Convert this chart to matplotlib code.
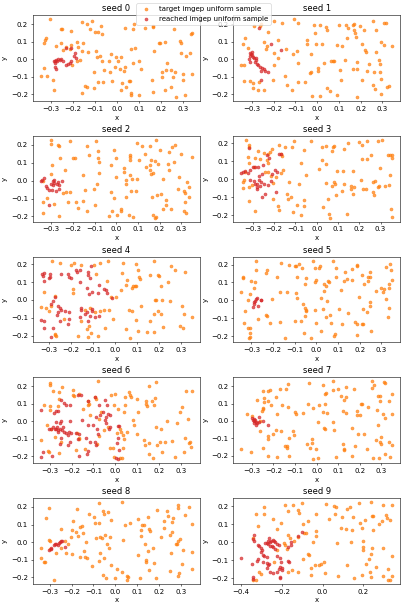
import numpy as np
import matplotlib
matplotlib.use('Agg')
import matplotlib.pyplot as plt

# points, (x, y) per seed
target_s0 = [(-0.308, 0.228), (-0.33, 0.11), (-0.335, 0.095), (-0.325, 0.12), (-0.254, 0.172), (-0.25, 0.172),
             (-0.257, 0.09), (-0.277, 0.075), (-0.246, 0.053), (-0.231, 0.068), (-0.212, 0.081), (-0.182, 0.10),
             (-0.18, 0.072), (-0.158, 0.049), (-0.131, 0.04), (-0.158, 0.211), (-0.138, 0.198), (-0.115, 0.217),
             (-0.123, 0.172), (-0.10, 0.157), (-0.085, 0.153), (-0.069, 0.143), (-0.072, 0.19), (-0.208, 0.16),
             (-0.154, 0.091), (-0.215, 0.057), (-0.169, -0.004), (-0.182, -0.009), (-0.206, -0.034), (-0.092, 0.015),
             (-0.077, 0.019), (-0.069, -0.009), (-0.103, -0.07), (-0.058, -0.064), (-0.031, -0.07), (-0.038, -0.009),
             (-0.026, 0.03), (-0.003, 0.015), (0.003, -0.009), (-0.008, -0.045), (0.012, -0.057), (0.035, -0.042),
             (0.031, -0.066), (0.02, 0.011), (0.038, 0.175), (0.072, 0.17), (0.077, 0.198), (0.062, 0.058),
             (0.08, 0.066), (0.074, -0.023), (0.1, -0.013), (0.108, -0.057), (0.126, 0.175), (0.162, 0.189),
             (0.166, 0.186), (0.169, 0.047), (0.158, -0.117), (0.166, -0.189), (0.191, 0.091), (0.197, 0.091),
             (0.218, 0.096), (0.226, -0.019), (0.203, -0.075), (0.203, -0.102), (0.223, -0.064), (0.246, -0.064),
             (0.257, -0.104), (0.246, -0.158), (0.22, -0.174), (0.265, -0.07), (0.271, -0.215), (0.258, 0.174),
             (0.289, 0.106), (0.292, 0.091), (0.292, 0.034), (0.303, -0.083), (0.303, -0.117), (0.315, 0.019),
             (0.312, -0.202), (0.338, 0.143), (0.343, 0.147), (0.335, 0.038), (0.343, -0.083), (-0.349, -0.094),
             (-0.334, -0.051), (-0.32, -0.094), (-0.292, -0.121), (-0.288, -0.177), (-0.158, -0.192), (-0.146, -0.151),
             (-0.135, -0.158), (-0.105, -0.164), (-0.085, -0.13), (-0.062, -0.13), (0.023, -0.136), (0.054, -0.123),
             (0.058, -0.123), (0.043, -0.158), (0.02, -0.174), (0.062, -0.202), (0.065, -0.192), (0.098, -0.206),
             (-0.023, -0.125), (-0.095, 0.047)]
reached_s0 = [(-0.289, -0.013), (-0.285, -0.008), (-0.277, -0.004), (-0.269, 0.0), (-0.262, -0.004), (-0.254, 0.0),
              (-0.246, -0.008), (-0.282, -0.023), (-0.285, -0.042), (-0.28, -0.055), (-0.231, -0.034), (-0.223, -0.028),
              (-0.215, -0.023), (-0.212, -0.009), (-0.197, 0.019), (-0.192, 0.034), (-0.188, 0.009), (-0.231, 0.066),
              (-0.212, 0.062), (-0.274, -0.013)]

target_s1 = [(-0.292, 0.19), (-0.262, 0.19), (-0.258, 0.202), (-0.331, 0.121), (-0.342, 0.089), (-0.318, 0.064),
             (-0.351, -0.034), (-0.334, -0.034), (-0.338, -0.123), (-0.311, -0.126), (-0.297, -0.136), (-0.295, -0.164),
             (-0.272, -0.174), (-0.246, -0.174), (-0.269, -0.13), (-0.226, 0.157), (-0.243, 0.1), (-0.231, 0.074),
             (-0.235, 0.06), (-0.197, 0.217), (-0.197, 0.036), (-0.182, 0.004), (-0.197, -0.034), (-0.205, -0.117),
             (-0.18, 0.111), (-0.162, 0.208), (-0.143, 0.06), (-0.146, -0.098), (-0.138, -0.145), (-0.118, -0.177),
             (-0.111, 0.028), (-0.105, 0.228), (-0.088, 0.204), (-0.095, 0.045), (-0.089, -0.021), (-0.088, -0.132),
             (-0.054, -0.132), (-0.049, 0.111), (-0.049, 0.089), (-0.031, -0.077), (-0.028, -0.073), (-0.028, 0.032),
             (-0.026, -0.211), (-0.008, 0.151), (-0.005, 0.089), (-0.015, 0.192), (0.003, -0.049), (0.005, -0.068),
             (0.012, 0.192), (0.015, -0.211), (0.023, 0.089), (0.031, -0.021), (0.042, 0.183), (0.046, 0.168),
             (0.062, -0.011), (0.072, -0.011), (0.077, -0.011), (0.046, -0.164), (0.058, -0.183), (0.089, -0.202),
             (0.092, 0.083), (0.1, 0.192), (0.105, -0.062), (0.112, 0.075), (0.108, -0.117), (0.126, -0.006),
             (0.134, 0.192), (0.142, 0.175), (0.138, 0.119), (0.165, 0.192), (0.169, 0.2), (0.169, 0.166),
             (0.174, 0.147), (0.177, 0.128), (0.166, -0.058), (0.182, -0.053), (0.185, -0.015), (0.182, -0.215),
             (0.197, 0.187), (0.208, 0.089), (0.206, -0.117), (0.215, 0.166), (0.218, 0.053), (0.226, 0.042),
             (0.228, -0.066), (0.238, -0.028), (0.257, 0.217), (0.258, -0.145), (0.262, -0.072), (0.265, -0.17),
             (0.269, 0.042), (0.269, 0.166), (0.288, -0.028), (0.292, 0.096), (0.292, -0.115), (0.295, -0.2),
             (0.289, -0.072), (0.308, 0.208), (0.315, 0.208), (0.308, 0.081), (0.285, -0.006), (0.328, -0.153),
             (0.323, -0.156), (0.346, 0.074)]
reached_s1 = [(-0.311, 0.038), (-0.305, 0.032), (-0.3, 0.026), (-0.308, 0.017), (-0.295, 0.013), (-0.289, 0.004),
              (-0.283, -0.006), (-0.288, -0.017), (-0.277, -0.025), (-0.271, -0.034), (-0.265, -0.043), (-0.254, -0.049),
              (-0.246, -0.058), (-0.238, -0.068), (-0.226, -0.075), (-0.257, -0.066), (-0.312, 0.0), (-0.308, -0.015),
              (-0.257, -0.117), (-0.211, 0.089), (-0.165, 0.055), (-0.269, 0.177), (-0.3, 0.042), (-0.28, 0.009)]

target_s2 = [(-0.303, 0.228), (-0.303, 0.206), (-0.269, 0.2), (-0.262, 0.196), (-0.257, 0.126), (-0.295, 0.089),
             (-0.3, 0.035), (-0.238, 0.057), (-0.212, 0.22), (-0.2, 0.126), (-0.192, 0.126), (-0.134, 0.196),
             (-0.126, 0.141), (-0.151, 0.03), (-0.095, 0.224), (-0.082, 0.163), (-0.085, 0.126), (-0.077, 0.104),
             (-0.077, 0.043), (-0.088, -0.017), (-0.103, -0.044), (-0.146, -0.05), (-0.185, -0.119), (-0.223, -0.119),
             (-0.177, -0.152), (-0.151, -0.115), (-0.135, -0.169), (-0.1, -0.137), (-0.231, -0.063), (-0.211, -0.063),
             (-0.246, -0.069), (-0.338, -0.119), (-0.338, -0.178), (-0.32, -0.096), (-0.285, -0.128), (-0.265, -0.198),
             (-0.338, -0.004), (-0.026, 0.089), (-0.011, 0.169), (0.0, 0.126), (0.0, 0.02), (-0.023, -0.063),
             (-0.011, -0.096), (-0.018, -0.169), (-0.034, -0.198), (0.005, -0.193), (0.02, -0.156), (0.023, -0.169),
             (0.038, 0.07), (0.038, 0.048), (0.046, 0.006), (0.043, -0.017), (0.046, -0.091), (0.062, 0.144),
             (0.065, 0.131), (0.065, 0.117), (0.062, 0.033), (0.074, 0.011), (0.069, -0.059), (0.092, -0.059),
             (0.097, 0.011), (0.095, 0.209), (0.103, 0.113), (0.118, 0.196), (0.057, -0.193), (0.077, -0.202),
             (0.132, 0.15), (0.138, 0.076), (0.157, 0.191), (0.162, 0.117), (0.157, 0.085), (0.158, 0.061),
             (0.162, 0.039), (0.169, 0.043), (0.165, -0.091), (0.185, 0.228), (0.177, 0.109), (0.188, -0.081),
             (0.205, -0.072), (0.203, 0.169), (0.192, 0.094), (0.215, 0.011), (0.215, -0.156), (0.231, -0.109),
             (0.231, -0.137), (0.238, 0.094), (0.242, 0.159), (0.246, 0.057), (0.257, 0.187), (0.272, 0.202),
             (0.269, 0.104), (0.254, -0.156), (0.177, -0.207), (0.185, -0.202), (0.172, -0.193), (0.3, 0.15),
             (0.289, 0.02), (0.286, -0.044), (0.315, -0.059), (0.318, -0.069), (0.318, -0.119), (0.315, -0.169),
             (0.32, -0.18), (0.326, -0.007), (0.338, -0.035), (0.335, -0.094), (0.351, 0.131)]
reached_s2 = [(-0.349, -0.004), (-0.342, 0.006), (-0.331, 0.017), (-0.326, -0.03), (-0.32, -0.041), (-0.3, -0.017),
              (-0.292, -0.004), (-0.285, -0.013), (-0.274, -0.017), (-0.269, -0.007), (-0.285, 0.006), (-0.295, -0.054),
              (-0.277, -0.059), (-0.262, -0.048), (-0.249, 0.0), (-0.311, -0.05), (-0.292, -0.026), (-0.308, -0.137),
              (-0.265, -0.022)]

target_s3 = [(-0.333, 0.22), (-0.317, 0.189), (-0.316, 0.18), (-0.323, 0.124), (-0.316, 0.091), (-0.289, 0.12),
             (-0.273, 0.156), (-0.266, 0.115), (-0.245, 0.146), (-0.227, 0.143), (-0.219, 0.154), (-0.208, 0.167),
             (-0.234, 0.106), (-0.227, 0.091), (-0.292, 0.069), (-0.336, 0.041), (-0.344, -0.015), (-0.339, -0.006),
             (-0.344, -0.048), (-0.316, -0.043), (-0.305, -0.033), (-0.316, -0.122), (-0.289, -0.176), (-0.242, 0.041),
             (-0.227, 0.041), (-0.214, 0.017), (-0.206, -0.019), (-0.191, 0.013), (-0.203, -0.111), (-0.177, 0.193),
             (-0.167, 0.143), (-0.164, 0.13), (-0.167, 0.035), (-0.156, 0.05), (-0.148, 0.18), (-0.138, -0.085),
             (-0.128, -0.015), (-0.136, -0.111), (-0.122, -0.102), (-0.183, -0.148), (-0.175, -0.172), (-0.114, 0.18),
             (-0.105, 0.213), (-0.113, -0.181), (-0.094, -0.144), (-0.081, -0.024), (-0.075, 0.091), (-0.073, -0.2),
             (-0.058, 0.161), (-0.052, 0.026), (-0.058, -0.117), (-0.058, -0.15), (-0.027, 0.213), (0.013, 0.059),
             (0.023, 0.109), (0.023, 0.18), (0.044, 0.183), (0.044, 0.087), (0.044, -0.02), (0.031, -0.157),
             (0.055, -0.113), (0.059, -0.194), (0.063, -0.215), (0.078, 0.18), (0.083, 0.185), (0.07, 0.157),
             (0.081, -0.015), (0.086, -0.024), (0.073, -0.039), (0.091, -0.089), (0.094, 0.044), (0.122, 0.044),
             (0.128, -0.028), (0.13, 0.17), (0.145, 0.202), (0.141, -0.196), (0.12, -0.067), (0.159, -0.039),
             (0.161, -0.057), (0.172, 0.046), (0.172, -0.08), (0.177, -0.043), (0.2, 0.207), (0.211, 0.189),
             (0.211, 0.115), (0.208, -0.006), (0.219, -0.057), (0.23, -0.057), (0.238, 0.213), (0.234, 0.115),
             (0.255, 0.133), (0.263, -0.07), (0.269, -0.089), (0.266, -0.015), (0.273, -0.011), (0.286, 0.211),
             (0.309, 0.217), (0.297, 0.063), (0.294, -0.039), (0.289, -0.046), (0.32, -0.039), (0.336, 0.133),
             (0.344, 0.133), (0.352, 0.137), (0.355, 0.119), (0.344, 0.022), (0.341, -0.03), (0.347, -0.169),
             (0.356, -0.209)]
reached_s3 = [(-0.356, 0.035), (-0.347, 0.041), (-0.336, 0.044), (-0.323, 0.035), (-0.313, 0.054), (-0.3, 0.069),
              (-0.288, 0.069), (-0.275, 0.069), (-0.313, -0.002), (-0.294, -0.011), (-0.289, -0.024), (-0.278, -0.024),
              (-0.272, -0.002), (-0.263, -0.015), (-0.281, -0.043), (-0.266, -0.039), (-0.253, 0.081), (-0.255, 0.031),
              (-0.245, -0.028), (-0.23, -0.033), (-0.214, -0.011), (-0.211, 0.028), (-0.195, 0.05), (-0.177, 0.143),
              (-0.169, 0.143), (-0.191, -0.07), (-0.242, -0.085), (-0.258, -0.098), (-0.281, -0.057), (-0.269, 0.017),
              (-0.316, 0.176), (-0.234, 0.133), (-0.222, 0.12), (-0.184, 0.041)]

target_s4 = [(-0.289, 0.22), (-0.249, 0.209), (-0.2, 0.193), (-0.185, 0.206), (-0.154, 0.196), (-0.096, 0.196),
             (-0.067, 0.209), (-0.032, 0.219), (0.037, 0.206), (0.095, 0.2), (0.105, 0.169), (0.11, 0.131),
             (0.113, 0.117), (0.032, 0.15), (0.056, 0.109), (0.052, 0.085), (0.029, 0.057), (0.003, 0.017),
             (0.082, 0.076), (0.09, 0.076), (0.098, 0.08), (0.079, 0.067), (0.162, 0.141), (0.179, 0.215),
             (0.197, 0.141), (0.202, 0.135), (0.208, 0.076), (0.217, 0.002), (0.185, 0.002), (0.189, 0.002),
             (0.179, -0.081), (0.197, -0.063), (0.209, -0.081), (0.162, -0.115), (0.177, -0.178), (0.22, -0.152),
             (0.243, 0.1), (0.25, -0.004), (0.255, 0.187), (0.273, 0.169), (0.322, 0.159), (0.307, -0.031),
             (0.316, -0.081), (0.296, -0.146), (0.311, -0.156), (0.353, -0.094), (0.148, -0.178), (0.095, -0.113),
             (0.079, -0.063), (0.064, -0.057), (0.118, -0.035), (0.105, -0.174), (0.049, -0.165), (0.067, -0.215),
             (-0.009, -0.109), (-0.017, 0.017), (-0.037, 0.104), (-0.052, -0.054), (-0.029, -0.057), (-0.07, -0.063),
             (-0.089, -0.069), (-0.047, -0.156), (-0.078, -0.202), (-0.108, -0.183), (-0.124, -0.207), (-0.127, -0.165),
             (-0.119, -0.146), (-0.169, -0.202), (-0.139, -0.054), (-0.116, -0.044), (-0.154, -0.119), (-0.192, 0.061),
             (-0.192, 0.039), (-0.302, -0.063), (-0.34, -0.039), (-0.314, -0.044), (-0.292, -0.031), (-0.272, 0.02),
             (-0.276, -0.193), (-0.272, -0.198), (-0.269, -0.203), (-0.231, -0.104), (-0.325, 0.043), (-0.085, 0.144)]
reached_s4 = [(-0.333, 0.144), (-0.328, 0.135), (-0.324, 0.15), (-0.299, 0.146), (-0.299, 0.131), (-0.302, 0.12),
              (-0.322, 0.104), (-0.246, 0.146), (-0.215, 0.144), (-0.212, 0.128), (-0.203, 0.12), (-0.18, 0.165),
              (-0.174, 0.154), (-0.162, 0.169), (-0.124, 0.159), (-0.111, 0.191), (-0.122, 0.139), (-0.116, 0.12),
              (-0.162, 0.098), (-0.128, 0.067), (-0.119, 0.035), (-0.104, 0.043), (-0.075, 0.085), (-0.052, 0.061),
              (-0.043, 0.054), (-0.037, 0.039), (-0.012, 0.011), (-0.272, 0.017), (-0.284, -0.007), (-0.29, -0.02),
              (-0.253, -0.044), (-0.247, -0.054), (-0.26, -0.065), (-0.229, -0.063), (-0.208, -0.069), (-0.249, -0.119),
              (-0.157, -0.044), (-0.153, -0.056), (-0.137, -0.076), (-0.128, -0.067), (-0.107, -0.05), (-0.104, -0.063),
              (-0.116, -0.087), (-0.124, -0.119), (-0.159, -0.093), (-0.208, -0.109), (-0.215, -0.137), (-0.339, -0.111),
              (-0.324, -0.119), (-0.325, -0.159), (-0.284, -0.154), (-0.293, -0.209), (-0.093, -0.094), (-0.073, -0.087),
              (-0.266, -0.085), (-0.26, -0.035), (-0.078, 0.039)]

target_s5 = [(-0.349, 0.044), (-0.338, 0.133), (-0.338, 0.124), (-0.308, 0.035), (-0.315, 0.0), (-0.328, -0.057),
             (-0.334, -0.126), (-0.315, -0.154), (-0.308, -0.154), (-0.308, -0.181), (-0.311, -0.209), (-0.305, -0.204),
             (-0.3, 0.109), (-0.285, 0.1), (-0.288, 0.069), (-0.28, 0.22), (-0.28, 0.167), (-0.269, -0.107),
             (-0.231, 0.152), (-0.226, 0.17), (-0.231, -0.08), (-0.228, -0.089), (-0.215, -0.126), (-0.203, 0.007),
             (-0.182, 0.13), (-0.169, -0.122), (-0.166, 0.044), (-0.162, 0.207), (-0.146, -0.209), (-0.138, 0.044),
             (-0.126, 0.198), (-0.1, 0.189), (-0.093, 0.192), (-0.1, -0.117), (-0.095, 0.041), (-0.089, 0.013),
             (-0.088, 0.128), (-0.082, 0.204), (-0.072, -0.117), (-0.065, 0.18), (-0.062, -0.02), (-0.054, 0.091),
             (-0.054, -0.043), (-0.049, -0.052), (-0.046, -0.061), (-0.054, -0.085), (-0.057, -0.185), (-0.049, 0.124),
             (-0.023, -0.213), (-0.018, 0.222), (-0.008, 0.18), (-0.008, 0.1), (-0.008, -0.056), (0.0, 0.115),
             (0.0, -0.126), (0.011, 0.18), (0.015, 0.189), (0.023, 0.013), (0.023, -0.172), (0.031, -0.048),
             (0.034, 0.091), (0.035, 0.05), (0.051, -0.002), (0.054, 0.109), (0.058, 0.1), (0.043, -0.094),
             (0.062, -0.08), (0.043, 0.078), (0.066, -0.126), (0.077, 0.222), (0.08, -0.2), (0.085, -0.19),
             (0.089, 0.18), (0.089, 0.133), (0.105, -0.048), (0.112, 0.056), (0.12, -0.135), (0.128, 0.106),
             (0.134, 0.156), (0.143, 0.119), (0.146, -0.07), (0.162, 0.174), (0.165, 0.115), (0.185, 0.189),
             (0.188, 0.198), (0.177, -0.122), (0.185, -0.131), (0.185, -0.196), (0.195, 0.019), (0.208, -0.135),
             (0.215, -0.13), (0.212, 0.139), (0.218, 0.091), (0.215, -0.048), (0.238, 0.133), (0.246, 0.133),
             (0.238, 0.109), (0.234, -0.067), (0.246, 0.161), (0.249, -0.011), (0.249, -0.03), (0.254, -0.172),
             (0.277, 0.05), (0.3, 0.069), (0.311, 0.063), (0.305, 0.044), (0.32, 0.007), (0.323, 0.185),
             (0.335, 0.091), (0.335, 0.069), (0.338, 0.204), (0.346, 0.167), (0.351, 0.115), (0.335, -0.043),
             (0.331, -0.094)]
reached_s5 = [(-0.292, -0.039), (-0.288, -0.011), (-0.285, -0.006), (-0.28, 0.007), (-0.274, 0.013), (-0.269, -0.033),
              (-0.258, 0.0), (-0.254, 0.0), (-0.287, -0.02)]

target_s6 = [(-0.3, 0.219), (-0.297, 0.208), (-0.285, 0.172), (-0.258, 0.166), (-0.242, 0.194), (-0.258, 0.128),
             (-0.326, 0.091), (-0.3, 0.085), (-0.297, 0.066), (-0.262, 0.085), (-0.194, 0.179), (-0.194, 0.147),
             (-0.191, 0.143), (-0.164, 0.153), (-0.126, 0.115), (-0.121, 0.1), (-0.123, 0.091), (-0.08, 0.228),
             (-0.091, 0.138), (-0.088, 0.128), (-0.065, 0.053), (-0.073, 0.015), (-0.053, -0.051), (-0.02, 0.147),
             (-0.008, 0.091), (0.0, 0.157), (0.014, 0.072), (-0.023, -0.151), (-0.012, -0.151), (-0.035, -0.032),
             (-0.005, -0.202), (0.006, -0.07), (0.023, -0.042), (0.026, -0.06), (0.036, -0.079), (0.041, -0.104),
             (0.053, -0.06), (0.023, -0.211), (0.03, -0.211), (0.036, -0.151), (0.038, 0.053), (0.045, 0.091),
             (0.045, 0.138), (0.061, 0.166), (0.068, 0.147), (0.074, 0.138), (0.079, 0.006), (0.086, -0.023),
             (0.097, -0.075), (0.098, 0.125), (0.102, 0.053), (0.132, -0.108), (0.135, -0.136), (0.139, 0.1),
             (0.144, 0.085), (0.139, 0.113), (0.152, 0.2), (0.155, -0.126), (0.155, -0.189), (0.17, 0.113),
             (0.173, -0.208), (0.177, 0.091), (0.182, 0.132), (0.185, 0.226), (0.185, -0.032), (0.189, -0.136),
             (0.208, -0.042), (0.205, -0.117), (0.212, -0.174), (0.226, -0.121), (0.238, 0.0), (0.258, -0.111),
             (0.273, -0.202), (0.283, -0.013), (0.295, 0.053), (0.306, 0.081), (0.314, -0.174), (0.318, -0.094),
             (0.324, 0.172), (0.332, 0.015), (0.336, -0.123), (0.341, -0.117), (0.347, -0.145), (0.352, 0.175),
             (-0.342, -0.108), (-0.311, -0.023), (-0.292, -0.047), (-0.276, -0.089), (-0.25, -0.117), (-0.258, -0.179),
             (-0.307, -0.17), (-0.303, -0.174), (-0.179, -0.164), (-0.176, -0.07), (-0.168, -0.098), (-0.164, -0.104),
             (-0.138, -0.158), (-0.118, 0.034), (-0.085, -0.132), (-0.076, -0.083), (-0.148, 0.072)]
reached_s6 = [(-0.338, 0.066), (-0.282, 0.049), (-0.273, 0.057), (-0.261, 0.057), (-0.247, 0.119), (-0.236, 0.106),
              (-0.227, 0.091), (-0.209, 0.091), (-0.17, 0.147), (-0.159, 0.151), (-0.126, 0.113), (-0.091, 0.138),
              (-0.073, 0.091), (-0.068, 0.038), (-0.055, 0.053), (-0.045, 0.119), (-0.039, 0.094), (-0.035, 0.043),
              (-0.026, 0.038), (-0.042, 0.023), (-0.045, 0.009), (-0.088, 0.025), (-0.126, -0.023), (-0.103, -0.023),
              (-0.085, -0.042), (-0.077, -0.074), (-0.118, -0.117), (-0.095, -0.117), (-0.088, -0.136), (-0.13, -0.187),
              (-0.133, -0.098), (-0.164, -0.075), (-0.179, -0.07), (-0.171, -0.102), (-0.202, -0.07), (-0.214, -0.06),
              (-0.218, -0.079), (-0.205, -0.117), (-0.217, -0.136), (-0.255, -0.132), (-0.25, -0.098), (-0.262, -0.051),
              (-0.277, -0.042), (-0.27, -0.042), (-0.255, -0.042), (-0.245, -0.051), (-0.255, -0.008), (-0.25, 0.002),
              (-0.267, -0.032), (-0.239, -0.032), (-0.235, -0.06), (-0.227, -0.07), (-0.303, -0.042), (-0.292, -0.042),
              (-0.285, -0.032), (-0.273, -0.004), (-0.33, -0.174), (-0.338, -0.202), (-0.288, -0.198), (-0.167, -0.198),
              (-0.03, -0.042), (0.011, -0.028), (0.018, -0.028), (0.009, -0.123), (0.003, -0.211), (0.014, -0.217),
              (0.015, -0.164), (0.014, -0.098), (-0.023, -0.032), (-0.126, -0.17), (-0.153, 0.006), (-0.209, 0.0),
              (-0.262, -0.064), (-0.042, -0.013)]

target_s7 = [(-0.351, -0.16), (-0.32, 0.038), (-0.305, -0.177), (-0.3, 0.03), (-0.277, 0.123), (-0.262, 0.0),
             (-0.262, -0.06), (-0.249, 0.17), (-0.246, -0.155), (-0.243, 0.134), (-0.243, 0.109), (-0.249, 0.072),
             (-0.246, 0.066), (-0.254, 0.057), (-0.226, 0.115), (-0.223, 0.175), (-0.215, 0.179), (-0.226, -0.089),
             (-0.223, -0.102), (-0.212, 0.091), (-0.2, -0.075), (-0.223, -0.202), (-0.188, 0.138), (-0.188, -0.051),
             (-0.185, -0.208), (-0.182, 0.038), (-0.169, 0.181), (-0.162, 0.094), (-0.165, -0.057), (-0.146, -0.145),
             (-0.142, 0.181), (-0.135, -0.145), (-0.135, -0.158), (-0.131, 0.213), (-0.131, 0.081), (-0.126, -0.202),
             (-0.126, -0.098), (-0.108, -0.06), (-0.105, -0.083), (-0.1, 0.049), (-0.095, 0.038), (-0.065, 0.043),
             (-0.043, -0.136), (-0.038, 0.1), (-0.034, 0.217), (-0.031, -0.155), (-0.023, -0.104), (-0.023, -0.126),
             (-0.018, 0.075), (-0.015, -0.221), (-0.003, -0.164), (0.005, -0.004), (0.008, -0.215), (0.011, 0.091),
             (0.028, 0.053), (0.031, 0.204), (0.034, -0.042), (0.038, -0.047), (0.038, 0.1), (0.038, 0.157),
             (0.043, 0.162), (0.046, 0.043), (0.074, 0.179), (0.077, 0.228), (0.077, -0.004), (0.08, -0.055),
             (0.089, -0.211), (0.1, 0.181), (0.112, 0.142), (0.12, 0.057), (0.123, -0.136), (0.128, -0.164),
             (0.126, -0.17), (0.126, 0.123), (0.134, 0.138), (0.138, 0.198), (0.135, 0.043), (0.162, -0.042),
             (0.162, -0.202), (0.172, 0.181), (0.177, -0.145), (0.188, 0.057), (0.189, 0.034), (0.192, -0.075),
             (0.2, 0.034), (0.203, 0.096), (0.208, 0.1), (0.218, -0.075), (0.231, -0.164), (0.238, 0.081),
             (0.257, 0.189), (0.258, 0.228), (0.262, -0.215), (0.265, 0.208), (0.274, -0.111), (0.28, 0.062),
             (0.282, -0.023), (0.285, 0.143), (0.292, 0.143), (0.295, 0.115), (0.289, -0.215), (0.3, -0.094),
             (0.292, -0.121), (0.3, -0.136), (0.305, 0.038), (0.311, 0.223), (0.315, 0.219), (0.315, -0.189),
             (0.315, 0.015), (0.334, 0.115), (0.337, -0.121), (0.338, -0.208), (0.351, 0.157), (0.351, 0.038),
             (0.351, -0.14)]
reached_s7 = [(-0.3, 0.015), (-0.295, 0.004), (-0.291, 0.011), (-0.288, -0.002), (-0.283, 0.006), (-0.292, -0.011),
              (-0.28, -0.009), (-0.274, -0.015), (-0.28, -0.023), (-0.269, 0.025), (-0.268, -0.008), (-0.249, 0.0),
              (-0.226, -0.023)]

target_s8 = [(-0.34, -0.089), (-0.342, -0.036), (-0.325, -0.111), (-0.322, -0.115), (-0.315, 0.138), (-0.304, 0.194),
             (-0.304, 0.011), (-0.299, 0.006), (-0.299, -0.042), (-0.281, -0.215), (-0.269, -0.06), (-0.25, 0.077),
             (-0.249, -0.032), (-0.231, 0.006), (-0.226, -0.064), (-0.218, -0.008), (-0.203, 0.03), (-0.197, 0.068),
             (-0.2, -0.07), (-0.192, 0.121), (-0.18, 0.058), (-0.174, 0.189), (-0.169, 0.034), (-0.162, 0.087),
             (-0.15, 0.091), (-0.147, 0.049), (-0.143, -0.051), (-0.139, -0.083), (-0.131, -0.092), (-0.134, 0.002),
             (-0.162, -0.083), (-0.119, 0.158), (-0.105, -0.136), (-0.096, 0.143), (-0.093, 0.106), (-0.09, 0.025),
             (-0.075, -0.106), (-0.073, 0.106), (-0.073, 0.223), (-0.07, 0.03), (-0.07, -0.064), (-0.06, 0.025),
             (-0.055, 0.175), (-0.052, 0.158), (-0.047, 0.04), (-0.05, -0.089), (-0.055, -0.187), (-0.043, -0.206),
             (-0.037, -0.013), (-0.032, 0.172), (-0.027, -0.036), (-0.024, 0.03), (-0.02, 0.125), (-0.02, -0.13),
             (-0.002, -0.206), (0.009, -0.153), (0.029, 0.228), (0.029, -0.168), (0.034, 0.011), (0.044, 0.096),
             (0.055, -0.191), (0.06, -0.196), (0.055, -0.215), (0.067, 0.106), (0.105, 0.134), (0.105, -0.074),
             (0.113, -0.206), (0.118, 0.068), (0.116, 0.036), (0.121, 0.1), (0.131, 0.1), (0.136, -0.008),
             (0.143, -0.102), (0.14, -0.111), (0.148, 0.143), (0.151, -0.049), (0.153, 0.077), (0.159, 0.062),
             (0.171, -0.036), (0.177, -0.117), (0.156, -0.158), (0.185, -0.206), (0.192, 0.181), (0.209, 0.03),
             (0.223, 0.081), (0.224, 0.121), (0.238, 0.175), (0.243, 0.147), (0.253, 0.04), (0.258, 0.115),
             (0.26, 0.058), (0.266, 0.138), (0.255, -0.064), (0.25, -0.164), (0.278, -0.013), (0.284, -0.013),
             (0.289, 0.213), (0.289, 0.194), (0.289, 0.006), (0.296, 0.017), (0.292, -0.177), (0.289, -0.192),
             (0.307, -0.126), (0.311, -0.045), (0.319, 0.157), (0.339, 0.2), (0.353, 0.102), (0.353, -0.055),
             (0.353, -0.153)]
reached_s8 = [(-0.302, -0.045), (-0.296, -0.04), (-0.292, -0.032), (-0.279, -0.017), (-0.272, -0.013), (-0.261, -0.015),
              (-0.256, -0.006), (-0.253, 0.002), (-0.249, 0.006), (-0.246, 0.009), (-0.231, -0.026), (-0.276, -0.013)]

target_s9 = [(-0.325, 0.155), (-0.316, 0.09), (-0.287, 0.194), (-0.287, 0.157), (-0.246, 0.127), (-0.226, 0.071),
             (-0.205, 0.108), (-0.185, 0.204), (-0.169, 0.17), (-0.144, 0.207), (-0.123, 0.179), (-0.115, 0.164),
             (-0.103, 0.217), (-0.098, 0.099), (-0.092, 0.052), (-0.082, 0.049), (-0.07, 0.118), (-0.034, 0.155),
             (-0.03, 0.062), (-0.03, 0.034), (-0.046, 0.002), (0.016, 0.213), (0.033, 0.127), (0.056, 0.202),
             (0.064, 0.193), (0.061, 0.157), (0.072, -0.004), (0.09, 0.077), (0.098, 0.138), (0.113, 0.071),
             (0.118, 0.183), (0.134, 0.192), (0.148, 0.138), (0.138, 0.002), (0.143, 0.067), (0.18, 0.217),
             (0.184, 0.105), (0.195, 0.077), (0.197, 0.006), (0.197, -0.041), (0.2, -0.026), (0.208, 0.123),
             (0.154, -0.2), (0.192, -0.181), (0.213, -0.12), (0.23, -0.092), (0.233, -0.163), (0.236, -0.191),
             (0.238, -0.064), (0.244, 0.146), (0.249, 0.146), (0.238, 0.222), (0.246, 0.067), (0.244, -0.03),
             (0.261, -0.135), (0.279, 0.099), (0.29, 0.118), (0.295, 0.204), (0.298, -0.032), (0.298, -0.185),
             (0.311, 0.151), (0.315, 0.136), (0.32, -0.148), (0.323, -0.209), (0.334, -0.207), (0.334, 0.123),
             (0.344, 0.204), (0.344, -0.077), (0.344, -0.185), (0.121, -0.129), (0.077, -0.185), (0.007, -0.11),
             (0.011, -0.172), (-0.01, -0.12), (-0.016, -0.125), (-0.038, -0.129), (-0.059, -0.144), (-0.057, -0.181),
             (-0.07, -0.064), (-0.066, -0.073), (-0.098, -0.095), (-0.12, -0.166), (-0.152, -0.157), (-0.169, -0.166),
             (-0.19, -0.007), (-0.185, -0.017), (-0.161, 0.021), (-0.174, -0.036), (-0.311, -0.163), (-0.303, -0.176),
             (-0.325, -0.209), (-0.344, -0.209), (-0.344, 0.024), (-0.226, -0.045), (-0.239, -0.11), (-0.169, 0.039),
             (-0.12, 0.03), (-0.139, 0.006)]
reached_s9 = [(-0.402, -0.088), (-0.349, -0.12), (-0.344, -0.191), (-0.341, -0.204), (-0.338, 0.039), (-0.341, 0.015),
              (-0.336, 0.006), (-0.316, -0.017), (-0.311, -0.022), (-0.303, -0.032), (-0.3, -0.045), (-0.305, -0.054),
              (-0.316, -0.092), (-0.321, -0.105), (-0.295, -0.073), (-0.287, -0.077), (-0.275, -0.082), (-0.292, -0.11),
              (-0.275, -0.116), (-0.267, -0.125), (-0.275, -0.144), (-0.259, -0.166), (-0.246, -0.17), (-0.284, -0.007),
              (-0.275, -0.007), (-0.267, -0.013), (-0.259, -0.002), (-0.252, 0.006), (-0.246, 0.011), (-0.239, 0.006),
              (-0.233, -0.002), (-0.223, -0.009), (-0.215, -0.015), (-0.251, -0.019), (-0.243, -0.028), (-0.267, 0.009),
              (-0.262, 0.021), (-0.259, -0.021), (-0.233, -0.036), (-0.223, -0.077), (-0.21, -0.088), (-0.205, -0.11),
              (-0.21, -0.138), (-0.216, -0.151), (-0.223, -0.163), (-0.2, -0.157), (-0.197, -0.144), (-0.172, -0.107),
              (-0.164, -0.11), (-0.156, 0.002), (-0.157, -0.017), (-0.172, -0.028), (-0.12, 0.036), (-0.103, 0.054),
              (-0.21, -0.191), (-0.207, -0.198), (-0.262, -0.12)]

targets = [target_s0, target_s1, target_s2, target_s3, target_s4,
           target_s5, target_s6, target_s7, target_s8, target_s9]
reacheds = [reached_s0, reached_s1, reached_s2, reached_s3, reached_s4,
            reached_s5, reached_s6, reached_s7, reached_s8, reached_s9]

fig, axes = plt.subplots(5, 2, figsize=(8.14, 12.2), dpi=50)
fig.subplots_adjust(left=0.081, right=0.983, top=0.975, bottom=0.043,
                    hspace=0.41, wspace=0.2)

for i, ax in enumerate(axes.flat):
    t = np.array(targets[i])
    r = np.array(reacheds[i])
    ax.scatter(t[:, 0], t[:, 1], s=18, color='#ff7f0e', alpha=0.7,
               label='target imgep uniform sample')
    ax.scatter(r[:, 0], r[:, 1], s=18, color='#d62728', alpha=0.7,
               label='reached imgep uniform sample')
    ax.set_title(f'seed {i}')
    ax.set_xlabel('x')
    ax.set_ylabel('y')
    ax.set_yticks([-0.2, -0.1, 0.0, 0.1, 0.2])

handles, labels = axes[0, 0].get_legend_handles_labels()
fig.legend(handles, labels, loc='upper center', bbox_to_anchor=(0.5, 1.0))

fig.savefig('out.png', dpi=50)
